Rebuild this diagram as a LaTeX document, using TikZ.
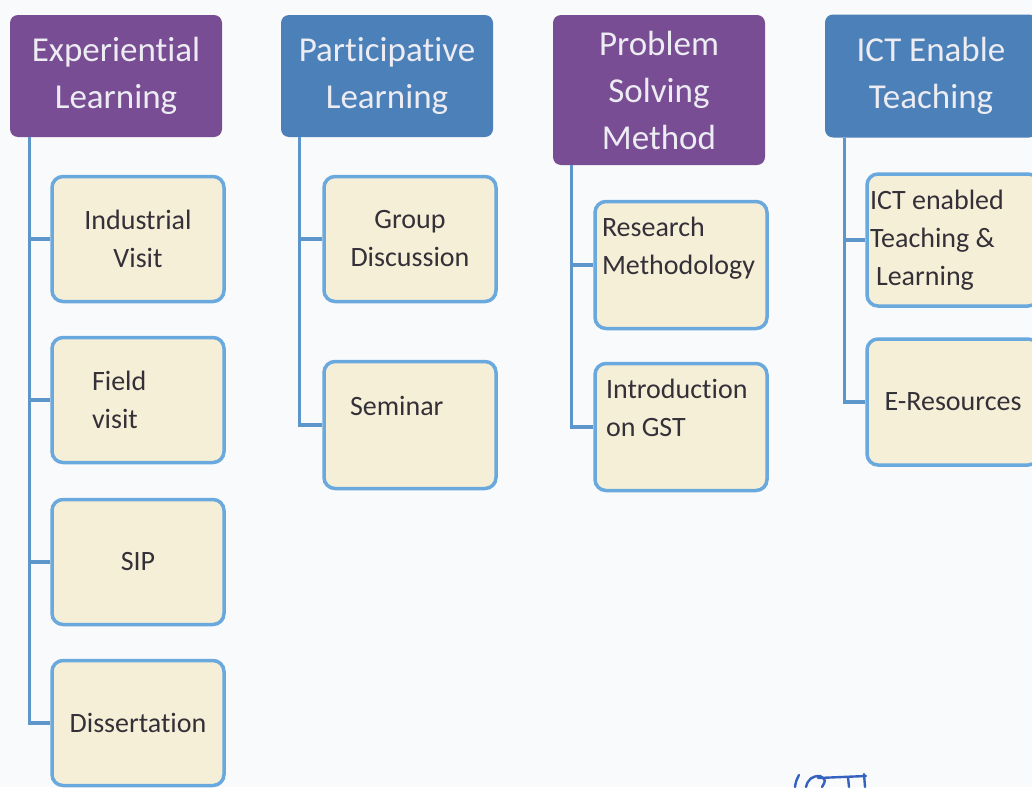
\documentclass[tikz,border=0pt]{standalone}
\usepackage{fontspec}
\setmainfont{Carlito}[Ligatures=NoCommon]
\usetikzlibrary{positioning}
\definecolor{paper}{RGB}{249,250,252}
\definecolor{headpurple}{RGB}{120,77,148}
\definecolor{headblue}{RGB}{76,128,184}
\definecolor{headtext}{RGB}{236,236,242}
\definecolor{boxfill}{RGB}{246,239,216}
\definecolor{boxline}{RGB}{106,169,221}
\definecolor{linkcol}{RGB}{92,150,203}
\definecolor{inktext}{RGB}{52,48,56}
\definecolor{pen}{RGB}{52,98,190}
\tikzstyle{head} = [rounded corners=8pt, minimum width=212pt, text=headtext, inner sep=0pt,
                    align=center, font=\fontsize{35}{47}\selectfont]
\tikzstyle{topic} = [draw=boxline, line width=3.5pt, fill=boxfill, rounded corners=11pt,
                     minimum width=172pt, minimum height=125pt, inner sep=0pt, text=inktext,
                     align=center, font=\fontsize{28}{38}\selectfont]
\tikzstyle{link} = [draw=linkcol, line width=3.2pt]

\begin{document}
\begin{tikzpicture}[x=1pt,y=-1pt]
                    \fill[paper] (0,0) rectangle (1032,787);
                    \useasboundingbox (0,0) rectangle (1032,787);

                    % headings
                    \node[head,fill=headpurple,minimum height=122pt] (exp) at (116,76) {Experiential\\Learning};
                    \node[head,fill=headblue,minimum height=122pt] (part) at (387,76) {Participative\\Learning};
                    \node[head,fill=headpurple,minimum height=150pt] (prob) at (659,90) {Problem\\Solving\\Method};
                    \node[head,fill=headblue,minimum height=123pt] (ict) at (931,76) {ICT Enable\\Teaching};

                    % experiential learning
                    \node[topic] (ind) at (138,239) {Industrial\\Visit};
                    \node[topic,text width=92pt,align=flush left] (field) at (138,400) {Field\\visit};
                    \node[topic] (sip) at (138,562) {SIP};
                    \node[topic] (dis) at (138,723) {Dissertation};

                    % participative learning
                    \node[topic] (group) at (410,239) {Group\\Discussion};
                    \node[topic,minimum height=127pt,text width=120pt,align=flush left] (sem) at (410,425) {Seminar\\\mbox{}};

                    % problem solving
                    \node[topic,minimum height=127pt,text width=158pt,align=flush left] (res) at (681,265) {Research\\Methodology\\\mbox{}};
                    \node[topic,minimum height=127pt,text width=150pt,align=flush left] (gst) at (681,427) {Introduction\\on GST\\\mbox{}};

                    % ict
                    \node[topic,minimum height=132pt,text width=166pt,align=flush left] (ictl) at (953,240) {ICT enabled\\Teaching \&\\\hspace*{6pt}Learning};
                    \node[topic,minimum height=126pt] (eres) at (953,402) {E-Resources};

                    % spines and branches
                    \coordinate (expspine) at ([xshift=20pt]exp.south west);
                    \coordinate (partspine) at ([xshift=19pt]part.south west);
                    \coordinate (probspine) at ([xshift=19pt]prob.south west);
                    \coordinate (ictspine) at ([xshift=20pt]ict.south west);

                    \draw[link] (expspine) |- (dis.west);
                    \foreach \c in {ind,field,sip}
                      \draw[link] (\c.west) -- (\c.west -| expspine);
                    \draw[link] (partspine) |- (sem.west);
                    \draw[link] (group.west) -- (group.west -| partspine);
                    \draw[link] (probspine) |- (gst.west);
                    \draw[link] (res.west) -- (res.west -| probspine);
                    \draw[link] (ictspine) |- (eres.west);
                    \draw[link] (ictl.west) -- (ictl.west -| ictspine);

                    % pen mark
                    \draw[pen,line width=2.4pt,line cap=round] (795,787) .. controls (796,781) .. (799,775);
                    \draw[pen,line width=2.4pt,line cap=round] (806,787) .. controls (808,779) and (812,776) .. (820,776)
                      .. controls (826,780) .. (822,787);
                    \draw[pen,line width=2.4pt,line cap=round] (818,778) -- (866,776);
                    \draw[pen,line width=2.4pt,line cap=round] (848,777) -- (849,787);
                    \draw[pen,line width=2.4pt,line cap=round] (864,774) -- (865,787);
                \end{tikzpicture}
\end{document}
